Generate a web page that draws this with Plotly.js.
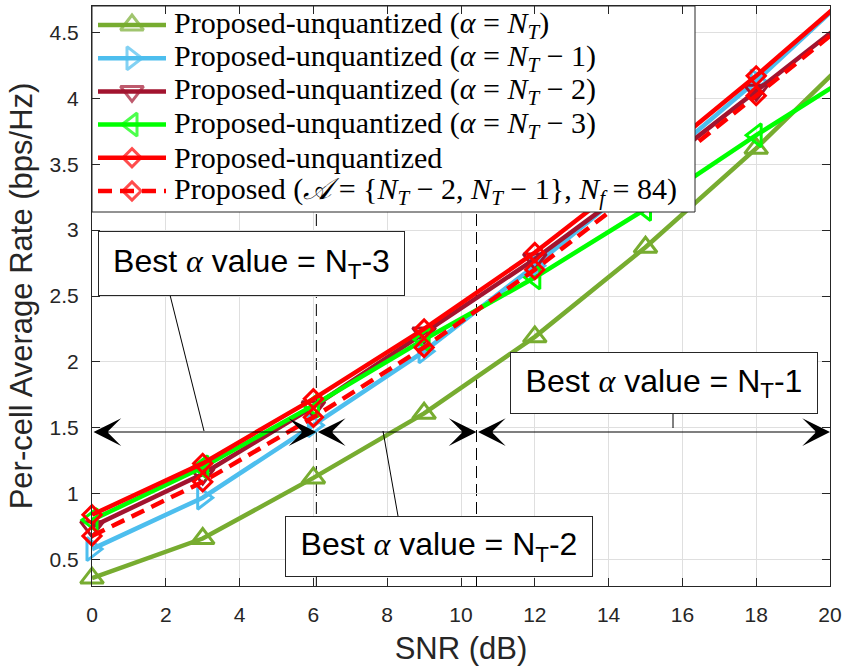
<!DOCTYPE html>
<html><head><meta charset="utf-8">
<script src="https://cdn.plot.ly/plotly-3.0.1.min.js"></script>
<style>html,body{margin:0;padding:0;background:#fff}</style>
</head><body><div id="chart" style="width:845px;height:667px"></div>
<script>
// ---- data ----
const snr = [0, 3, 6, 9, 12, 15, 18, 21];
const rateAlphaNT  = [0.36, 0.66, 1.12, 1.61, 2.19, 2.87, 3.62, 4.44];
const rateAlphaNT1 = [0.58, 0.97, 1.52, 2.08, 2.73, 3.42, 4.13, 4.91];
const rateAlphaNT2 = [0.75, 1.15, 1.66, 2.22, 2.78, 3.40, 4.06, 4.71];
const rateAlphaNT3 = [0.80, 1.20, 1.67, 2.17, 2.64, 3.16, 3.72, 4.25];
const rateUnquant  = [0.84, 1.23, 1.72, 2.25, 2.83, 3.48, 4.17, 4.90];
const rateQuant    = [0.68, 1.09, 1.58, 2.11, 2.70, 3.35, 4.02, 4.70];
const seriesNames = [
  'Proposed-unquantized (<i>α</i> = <i>N</i><sub><i>T</i></sub>)',
  'Proposed-unquantized (<i>α</i> = <i>N</i><sub><i>T</i></sub> − 1)',
  'Proposed-unquantized (<i>α</i> = <i>N</i><sub><i>T</i></sub> − 2)',
  'Proposed-unquantized (<i>α</i> = <i>N</i><sub><i>T</i></sub> − 3)',
  'Proposed-unquantized',
  'Proposed (<i>𝒜</i> = {<i>N</i><sub><i>T</i></sub> − 2, <i>N</i><sub><i>T</i></sub> − 1}, <i>N</i><sub><i>f</i></sub> = 84)'
];
const xTicks = [0, 2, 4, 6, 8, 10, 12, 14, 16, 18, 20];
const yTicks = [0.5, 1, 1.5, 2, 2.5, 3, 3.5, 4, 4.5];
const yTickText = ['0.5', '1', '1.5', '2', '2.5', '3', '3.5', '4', '4.5'];
const boundarySNR = [6.08, 10.42];        // region boundaries (dB)
const arrowLevel = 1.468;                  // y of the region arrows
const regionLabels = ['N<sub>T</sub>-3', 'N<sub>T</sub>-2', 'N<sub>T</sub>-1'];

// ---- styles ----
const styles = [
  {color: 'rgb(119,172,48)', symbol: 'triangle-up-open', size: 20, dash: 'solid'},
  {color: 'rgb(77,190,238)', symbol: 'triangle-right-open', size: 20, dash: 'solid'},
  {color: 'rgb(162,20,47)', symbol: 'triangle-down-open', size: 20, dash: 'solid'},
  {color: 'rgb(0,255,0)', symbol: 'triangle-left-open', size: 20, dash: 'solid'},
  {color: 'rgb(255,0,0)', symbol: 'diamond-open', size: 14, dash: 'solid'},
  {color: 'rgb(255,0,0)', symbol: 'diamond-open', size: 14, dash: '14px,8px'}
];
const allY = [rateAlphaNT, rateAlphaNT1, rateAlphaNT2, rateAlphaNT3, rateUnquant, rateQuant];
const LW = 4.5, MLW = 3;

const traces = [];
allY.forEach((ys, i) => {
  const s = styles[i];
  traces.push({
    x: snr, y: ys, type: 'scatter', mode: 'lines+markers', name: seriesNames[i],
    line: {color: s.color, width: LW, dash: s.dash},
    marker: {symbol: s.symbol, size: s.size, color: s.color, line: {color: s.color, width: MLW}},
    cliponaxis: false, showlegend: false, hoverinfo: 'skip'
  });
});

// ---- custom legend in a pixel-coordinate overlay ----
const L = {x0: 92, x1: 695, y0: 6, y1: 212, row0: 25, step: 33.2, lx0: 98, lx1: 166, tx: 172};
traces.push({
  x: [L.x0, L.x1, L.x1, L.x0, L.x0], y: [L.y0, L.y0, L.y1, L.y1, L.y0],
  xaxis: 'x2', yaxis: 'y2', type: 'scatter', mode: 'lines', fill: 'toself',
  fillcolor: '#ffffff', line: {color: '#262626', width: 1}, showlegend: false, hoverinfo: 'skip'
});
const annotations = [];
styles.forEach((s, i) => {
  const yc = L.row0 + i * L.step;
  traces.push({
    x: [L.lx0, (L.lx0 + L.lx1) / 2, L.lx1], y: [yc, yc, yc],
    xaxis: 'x2', yaxis: 'y2', type: 'scatter', mode: 'lines+markers',
    line: {color: s.color, width: LW, dash: s.dash},
    marker: {symbol: s.symbol, size: [0, s.size, 0], color: s.color, line: {color: s.color, width: MLW}},
    showlegend: false, hoverinfo: 'skip'
  });
  annotations.push({
    xref: 'x2', yref: 'y2', x: L.tx, y: yc, xanchor: 'left', yanchor: 'middle',
    text: seriesNames[i], showarrow: false,
    font: {family: 'Liberation Serif', size: 30, color: '#000'}
  });
});

// ---- region arrows ----
const bounds = [0].concat(boundarySNR, [20]);
for (let k = 0; k < bounds.length - 1; k++) {
  annotations.push({
    xref: 'x', yref: 'y', axref: 'x', ayref: 'y',
    x: bounds[k + 1], y: arrowLevel, ax: bounds[k], ay: arrowLevel,
    text: '', showarrow: true, arrowside: 'end+start',
    arrowhead: 3, startarrowhead: 3, arrowsize: 4.2, startarrowsize: 4.2,
    arrowwidth: 1.1, arrowcolor: '#000', standoff: 0, startstandoff: 0
  });
}
// ---- labelled boxes ----
const boxes = [
  {x: 98, y: 231, w: 305, h: 63, ptr: [170, 295, 204, 431]},
  {x: 285, y: 516, w: 306, h: 59, ptr: [398, 516, 383, 431]},
  {x: 510, y: 352, w: 306, h: 60, ptr: [673, 412, 673, 428]}
];
const shapes = [];
boxes.forEach((b, i) => {
  shapes.push({type: 'line', xref: 'x2', yref: 'y2', x0: b.ptr[0], y0: b.ptr[1], x1: b.ptr[2], y1: b.ptr[3],
    line: {color: '#000', width: 1}, layer: 'above'});
  annotations.push({
    xref: 'x2', yref: 'y2', x: b.x, y: b.y, xanchor: 'left', yanchor: 'top',
    width: b.w, height: b.h, borderpad: 0, borderwidth: 1, bordercolor: '#262626', bgcolor: '#fff',
    align: 'center', valign: 'middle', showarrow: false,
    text: 'Best <span style="font-family:Liberation Serif"><i>α</i></span> value = ' + regionLabels[i],
    font: {family: 'Liberation Sans', size: 32, color: '#000'}
  });
});
boundarySNR.forEach(b => {
  shapes.push({type: 'line', xref: 'x', yref: 'y', x0: b, x1: b, y0: 0.3, y1: 4.7,
    line: {color: '#000', width: 1, dash: '12px,6px'}, layer: 'below'});
});

const axisCommon = {
  ticks: 'inside', ticklen: 8, tickwidth: 1, tickcolor: '#262626',
  showline: true, linecolor: '#262626', linewidth: 1, mirror: 'ticks',
  showgrid: true, gridcolor: '#dfdfdf', gridwidth: 1, zeroline: false,
  tickfont: {family: 'Liberation Sans', size: 21, color: '#262626'}
};
const layout = {
  width: 845, height: 667,
  margin: {l: 92, r: 15, t: 6, b: 81},
  paper_bgcolor: '#fff', plot_bgcolor: '#fff',
  showlegend: false,
  xaxis: Object.assign({}, axisCommon, {
    range: [0, 20], tickvals: xTicks, ticktext: xTicks.map(String), ticklabelstandoff: 10,
    title: {text: 'SNR (dB)', font: {family: 'Liberation Sans', size: 31, color: '#262626'}, standoff: 12}
  }),
  yaxis: Object.assign({}, axisCommon, {
    range: [0.3, 4.7], tickvals: yTicks, ticktext: yTickText, ticklabelstandoff: 8,
    title: {text: 'Per-cell Average Rate (bps/Hz)', font: {family: 'Liberation Sans', size: 31, color: '#262626'}, standoff: 7}
  }),
  xaxis2: {overlaying: 'x', range: [92, 830], visible: false, fixedrange: true},
  yaxis2: {overlaying: 'y', range: [586, 6], visible: false, fixedrange: true},
  annotations: annotations,
  shapes: shapes
};
Plotly.newPlot('chart', traces, layout, {staticPlot: true, displayModeBar: false});
</script>
</body></html>
